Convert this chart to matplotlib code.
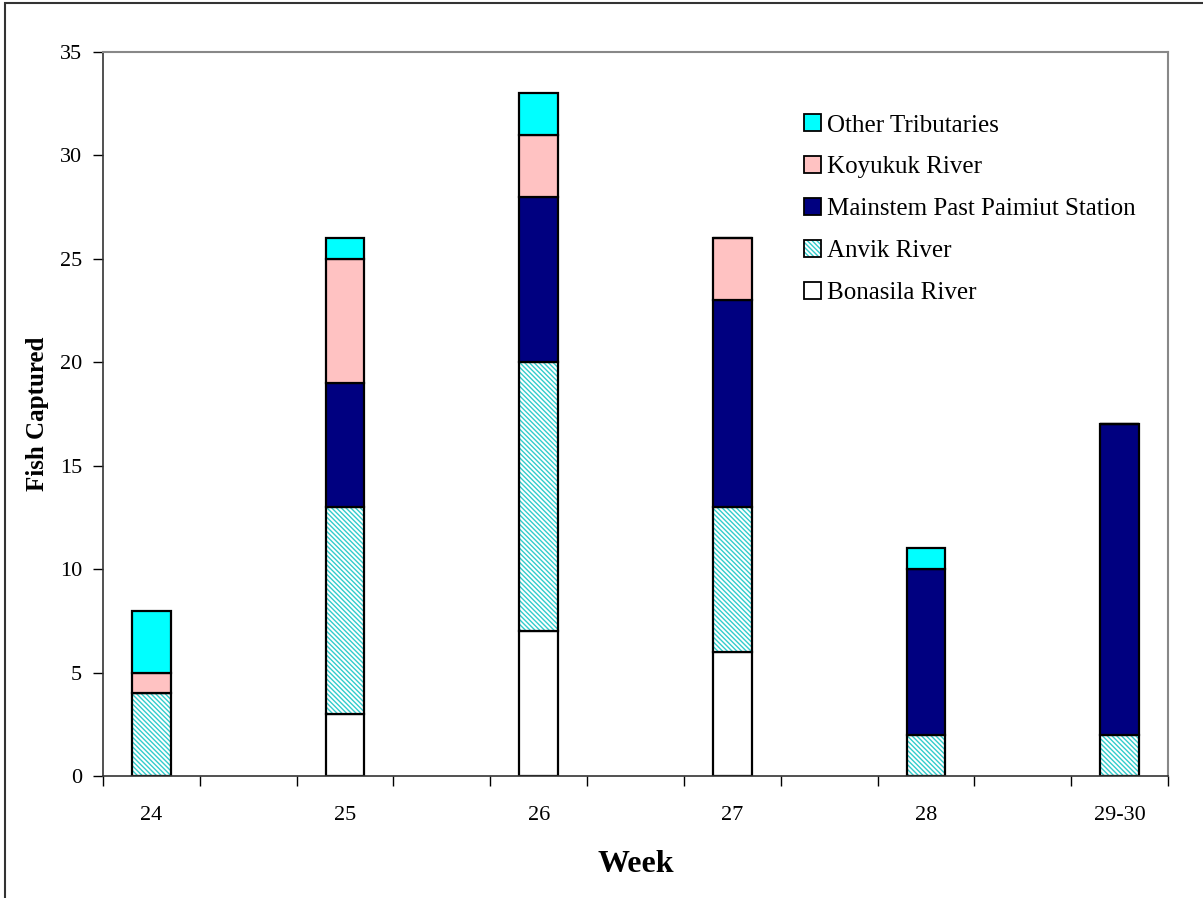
import numpy as np
import matplotlib
matplotlib.use('Agg')
import matplotlib.pyplot as plt
from matplotlib.patches import Rectangle

weeks = ['24', '25', '26', '27', '28', '29-30']
bonasila = [0, 3, 7, 6, 0, 0]
anvik = [4, 10, 13, 7, 2, 2]
mainstem = [0, 6, 8, 10, 8, 15]
koyukuk = [1, 6, 3, 3, 0, 0]
other = [3, 1, 2, 0, 1, 0]

plt.rcParams['font.family'] = 'Liberation Serif'
plt.rcParams['hatch.linewidth'] = 1.0

W, H = 1203, 898
fig = plt.figure(figsize=(W / 100, H / 100), dpi=100)
ax = fig.add_axes([103 / W, 1 - 776 / H, (1168 - 103) / W, (776 - 52) / H])

# outer frame (only top/left visible in the original)
fig.patches.append(Rectangle((5 / W, -0.1), 1.2, 1 - 3 / H + 0.1, transform=fig.transFigure,
                             fill=False, edgecolor='#333333', linewidth=1.5))

x = np.arange(len(weeks)) * 2
width = 0.4
bottom = np.zeros(len(weeks))

series = [
    ('Bonasila River', bonasila, 'white', None),
    ('Anvik River', anvik, 'white', '\\\\\\\\\\\\\\'),
    ('Mainstem Past Paimiut Station', mainstem, '#000080', None),
    ('Koyukuk River', koyukuk, '#FFC2C2', None),
    ('Other Tributaries', other, '#00FFFF', None),
]

handles = []
for name, vals, color, hatch in series:
    vals = np.array(vals, dtype=float)
    if hatch:
        ax.bar(x, vals, width, bottom=bottom, color=color, edgecolor='#33CCCC',
               hatch=hatch, linewidth=0)
        ax.bar(x, vals, width, bottom=bottom, fill=False, edgecolor='black', linewidth=1.6)
        proxy = Rectangle((0, 0), 1, 1, facecolor='white', edgecolor='#33CCCC', hatch=hatch, linewidth=0)
        handles.append((proxy, Rectangle((0, 0), 1, 1, fill=False, edgecolor='black', linewidth=1.3), name))
    else:
        ax.bar(x, vals, width, bottom=bottom, color=color, edgecolor='black', linewidth=1.6)
        handles.append((Rectangle((0, 0), 1, 1, facecolor=color, edgecolor='black', linewidth=1.3), None, name))
    bottom += vals

leg_handles = []
leg_labels = []
for p, frame, name in handles[::-1]:
    leg_handles.append((p, frame) if frame is not None else p)
    leg_labels.append(name)

ax.legend(leg_handles, leg_labels, loc='upper left', bbox_to_anchor=(0.658, 0.914),
          frameon=False, fontsize=18, handlelength=0.68, handleheight=0.68,
          handletextpad=0.25, labelspacing=0.78, borderaxespad=0, borderpad=0)

ax.set_xlim(-0.5, 10.5)
ax.set_ylim(0, 35)
ax.set_yticks(np.arange(0, 36, 5))
ax.set_xticks(x)
ax.set_xticklabels(weeks)
ax.set_xticks(np.arange(-0.5, 10.6, 1), minor=True)
ax.tick_params(axis='x', which='major', length=0, pad=21.5, labelsize=16)
ax.tick_params(axis='x', which='minor', length=7, width=1, direction='out')
ax.tick_params(axis='y', length=7, width=1, direction='out', pad=8, labelsize=16)

for s in ['top', 'right']:
    ax.spines[s].set_color('#888888')
    ax.spines[s].set_linewidth(1.5)
for s in ['left', 'bottom']:
    ax.spines[s].set_color('#333333')
    ax.spines[s].set_linewidth(1.2)

ax.set_xlabel('Week', fontsize=23, fontweight='bold', labelpad=18)
ax.set_ylabel('Fish Captured', fontsize=18, fontweight='bold', labelpad=8)

plt.savefig('out.png', dpi=100)
